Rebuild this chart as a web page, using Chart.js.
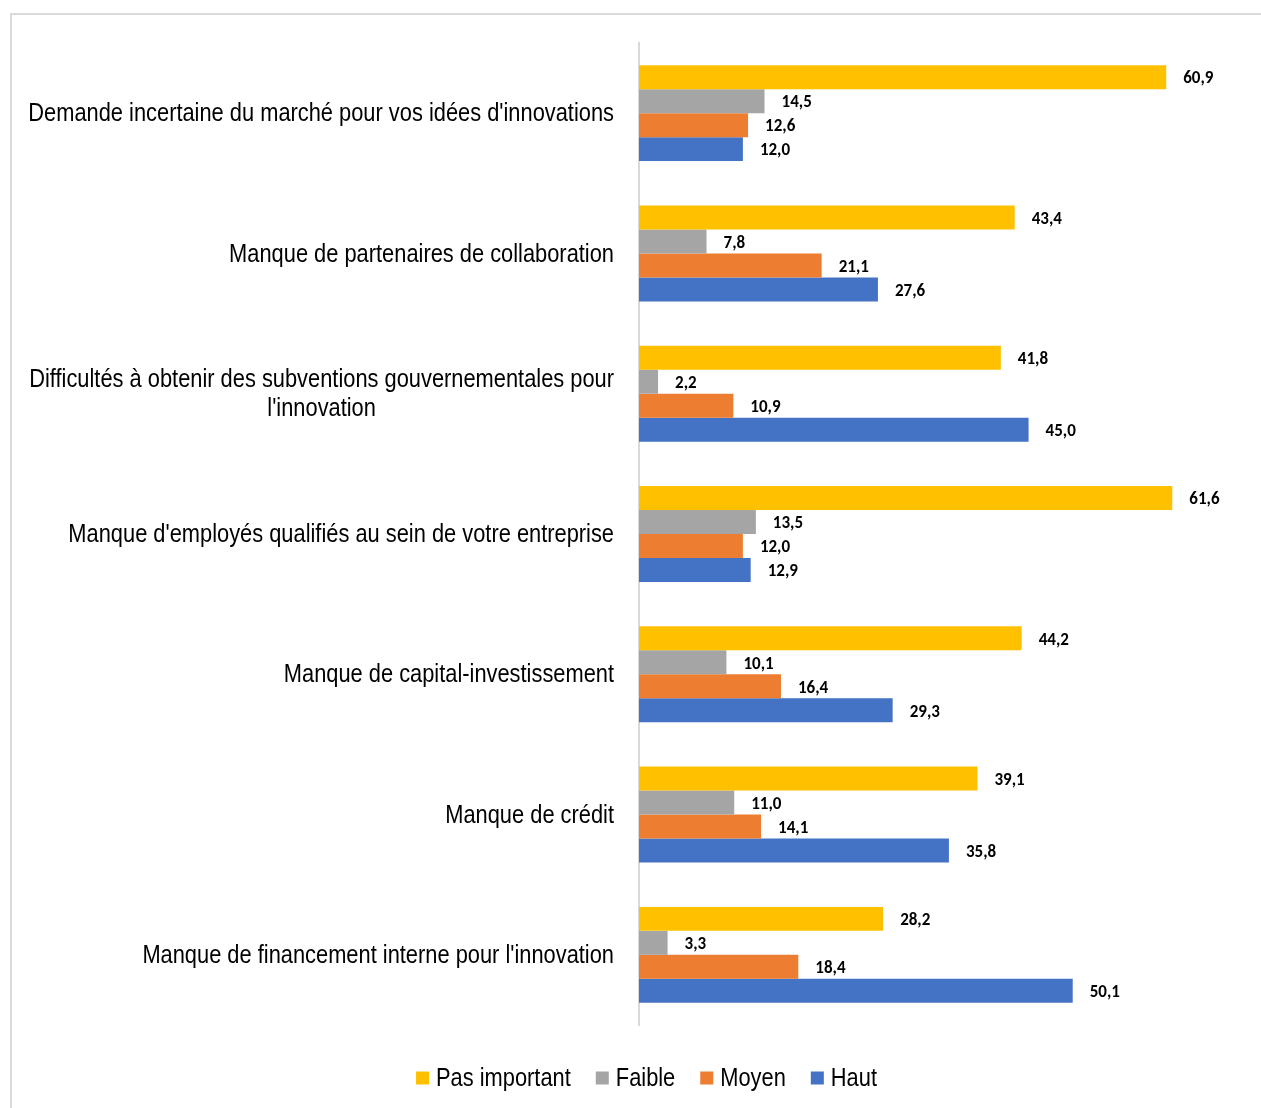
<!DOCTYPE html>
<html>
<head>
<meta charset="utf-8">
<script src="https://cdn.jsdelivr.net/npm/chart.js@4.4.1/dist/chart.umd.min.js"></script>
<style>
  html, body { margin:0; padding:0; background:#fff; overflow:hidden; }
  #frame { position:absolute; left:10px; top:13px; width:1300px; height:1200px; border:2px solid #d9d9d9; box-sizing:border-box; }
  #wrap { position:absolute; left:0; top:0; width:1261px; height:1108px; }
</style>
</head>
<body>
<div id="frame"></div>
<div id="wrap"><canvas id="c" width="1261" height="1108"></canvas></div>
<script>
// categories (one array per label, one entry per line)
const categories = [
  ["Demande incertaine du marché pour vos idées d'innovations"],
  ["Manque de partenaires de collaboration"],
  ["Difficultés à obtenir des subventions gouvernementales pour", "l'innovation"],
  ["Manque d'employés qualifiés au sein de votre entreprise"],
  ["Manque de capital-investissement"],
  ["Manque de crédit"],
  ["Manque de financement interne pour l'innovation"]
];
const seriesNames = ['Pas important', 'Faible', 'Moyen', 'Haut'];
const seriesColors = ['#FFC000', '#A5A5A5', '#ED7D31', '#4472C4'];
const pasImportant = [60.9, 43.4, 41.8, 61.6, 44.2, 39.1, 28.2];
const faible       = [14.5, 7.8, 2.2, 13.5, 10.1, 11.0, 3.3];
const moyen        = [12.6, 21.1, 10.9, 12.0, 16.4, 14.1, 18.4];
const haut         = [12.0, 27.6, 45.0, 12.9, 29.3, 35.8, 50.1];
const xMax = 70;

// pas d'Arial Narrow ici : Liberation Sans compressée horizontalement
const SANS = "'Liberation Sans', Arial, sans-serif";
const NARROW_K = 0.84;
const LABELF = "Carlito, Calibri, Lato, 'Open Sans', sans-serif";

const fmt = v => v.toFixed(1).replace('.', ',');

function narrowText(ctx, txt, x, y){
  ctx.save();
  ctx.translate(x, y);
  ctx.scale(NARROW_K, 1);
  ctx.fillText(txt, 0, 0);
  ctx.restore();
}

// valeurs au bout des barres
const valueLabels = {
  id: 'valueLabels',
  afterDatasetsDraw(chart){
    const ctx = chart.ctx;
    ctx.save();
    ctx.font = 'bold 17px ' + LABELF;
    ctx.fillStyle = '#000';
    ctx.textAlign = 'left';
    ctx.textBaseline = 'middle';
    chart.data.datasets.forEach((ds, di) => {
      chart.getDatasetMeta(di).data.forEach((bar, i) => {
        ctx.fillText(fmt(ds.data[i]), bar.x + 17, bar.y + 2);
      });
    });
    ctx.restore();
  }
};

// libellés de catégories (droite alignée, lignes centrées entre elles)
const catLabels = {
  id: 'catLabels',
  afterDraw(chart){
    const ctx = chart.ctx, ys = chart.scales.y;
    ctx.save();
    ctx.font = '26px ' + SANS;
    ctx.fillStyle = '#000';
    ctx.textBaseline = 'middle';
    ctx.textAlign = 'center';
    const right = 614, lh = 29;
    categories.forEach((lines, i) => {
      const yc = ys.getPixelForValue(i);
      const w = Math.max(...lines.map(l => ctx.measureText(l).width)) * NARROW_K;
      const cx = right - w / 2;
      const y0 = yc - (lines.length - 1) * lh / 2;
      lines.forEach((l, k) => narrowText(ctx, l, cx, y0 + k * lh + 1));
    });
    ctx.restore();
  }
};

// légende en bas
const bottomLegend = {
  id: 'bottomLegend',
  afterDraw(chart){
    const ctx = chart.ctx;
    ctx.save();
    ctx.font = '26px ' + SANS;
    ctx.textBaseline = 'middle';
    const box = 13, gapText = 7, gapItem = 25, yc = 1078;
    const widths = seriesNames.map(n => box + gapText + ctx.measureText(n).width * NARROW_K);
    const total = widths.reduce((a, b) => a + b, 0) + gapItem * (seriesNames.length - 1);
    let x = 646.5 - total / 2;
    seriesNames.forEach((n, i) => {
      ctx.fillStyle = seriesColors[i];
      ctx.fillRect(x, yc - box / 2, box, box);
      ctx.fillStyle = '#000';
      ctx.textAlign = 'left';
      narrowText(ctx, n, x + box + gapText, yc + 1);
      x += widths[i] + gapItem;
    });
    ctx.restore();
  }
};

const values = [pasImportant, faible, moyen, haut];

new Chart(document.getElementById('c'), {
  type: 'bar',
  data: {
    labels: categories.map(l => l.join(' ')),
    datasets: seriesNames.map((n, i) => ({
      label: n,
      data: values[i],
      backgroundColor: seriesColors[i],
      borderWidth: 0,
      barPercentage: 1,
      categoryPercentage: 0.684
    }))
  },
  options: {
    indexAxis: 'y',
    responsive: false,
    animation: false,
    layout: { padding: { top: 43, bottom: 83, left: 0, right: 16 } },
    scales: {
      x: { display: false, min: 0, max: xMax },
      y: {
        ticks: { display: false },
        grid: { display: false },
        border: { display: true, color: '#d9d9d9', width: 2 },
        afterFit: s => { s.width = 639; }
      }
    },
    plugins: { legend: { display: false }, tooltip: { enabled: false } }
  },
  plugins: [valueLabels, catLabels, bottomLegend]
});
</script>
</body>
</html>
